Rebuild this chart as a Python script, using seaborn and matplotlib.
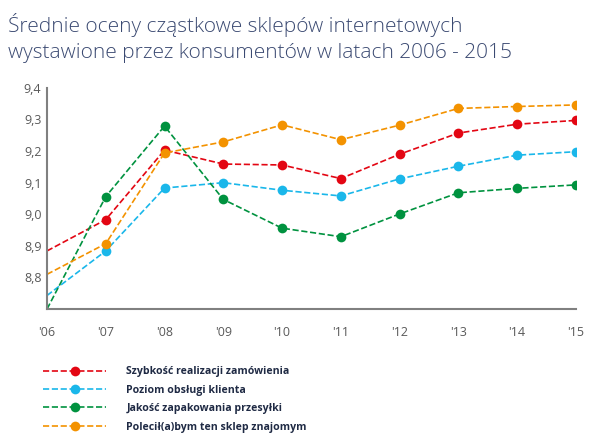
import pandas as pd
import matplotlib.pyplot as plt
import seaborn as sns
from matplotlib.lines import Line2D

# dane
years = ["'06", "'07", "'08", "'09", "'10", "'11", "'12", "'13", "'14", "'15"]
szybkosc = [8.884, 8.983, 9.203, 9.159, 9.156, 9.113, 9.190, 9.257, 9.285, 9.297]
obsluga = [8.743, 8.884, 9.083, 9.100, 9.076, 9.058, 9.112, 9.152, 9.187, 9.198]
zapakowanie = [8.700, 9.056, 9.279, 9.047, 8.956, 8.929, 9.001, 9.068, 9.082, 9.093]
polecilbym = [8.810, 8.907, 9.194, 9.229, 9.283, 9.236, 9.282, 9.335, 9.341, 9.346]

series = {
    "Szybkość realizacji zamówienia": szybkosc,
    "Poziom obsługi klienta": obsluga,
    "Jakość zapakowania przesyłki": zapakowanie,
    "Polecił(a)bym ten sklep znajomym": polecilbym,
}
colors = ["#e30613", "#1ab7ea", "#00923f", "#f39200"]

rows = []
for name, vals in series.items():
    for i, v in enumerate(vals):
        rows.append({"idx": i, "value": v, "series": name})
df = pd.DataFrame(rows)

sns.set_style("white")
plt.rcParams["font.family"] = ["Open Sans", "DejaVu Sans"]

fig = plt.figure(figsize=(5.98, 4.46), dpi=100)
ax = fig.add_axes([0.0786, 0.307, 0.8844, 0.496])

# linie przerywane, bez znacznika dla '06
for (name, vals), col in zip(series.items(), colors):
    sns.lineplot(data=df[df["series"] == name], x="idx", y="value", ax=ax,
                 color=col, linestyle="--", linewidth=1.2, marker="o",
                 markersize=7, markeredgewidth=0, markevery=list(range(1, 10)),
                 legend=False)

ax.set_xlim(0, 9)
ax.set_ylim(8.7, 9.4)
ax.set_xticks(range(len(years)))
ax.set_xticklabels(years)
yt = [8.8, 8.9, 9.0, 9.1, 9.2, 9.3, 9.4]
ax.set_yticks(yt)
ax.set_yticklabels([f"{t:.1f}".replace(".", ",") for t in yt])
ax.tick_params(axis="both", length=0, labelsize=9, colors="#595959")
ax.tick_params(axis="x", pad=12)
ax.tick_params(axis="y", pad=4)
ax.set_xlabel("")
ax.set_ylabel("")
for s in ["top", "right"]:
    ax.spines[s].set_visible(False)
for s in ["left", "bottom"]:
    ax.spines[s].set_color("#808080")
    ax.spines[s].set_linewidth(1.5)

fig.text(0.013, 0.915, "Średnie oceny cząstkowe sklepów internetowych\nwystawione przez konsumentów w latach 2006 - 2015",
         fontsize=15, color="#3b4a72", va="center", ha="left", linespacing=1.45,
         fontweight="light")

handles = [Line2D([0], [0], color=c, linestyle="--", linewidth=1.2, marker="o",
                  markersize=7, markeredgewidth=0) for c in colors]
leg = fig.legend(handles, list(series.keys()), loc="upper left",
                 bbox_to_anchor=(0.065, 0.188), frameon=False,
                 prop={"weight": "bold", "size": 7.6}, handlelength=6.0,
                 handletextpad=1.9, labelspacing=0.7, borderaxespad=0)
for t in leg.get_texts():
    t.set_color("#1f2a44")

fig.savefig("out.png", dpi=100)
